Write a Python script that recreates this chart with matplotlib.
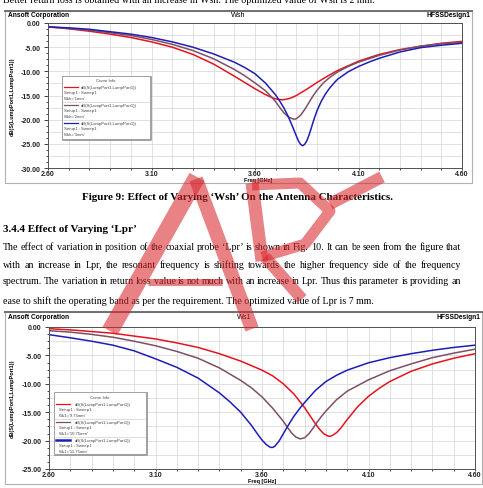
import matplotlib
matplotlib.use("Agg")
import matplotlib.pyplot as plt
from matplotlib.patches import Rectangle
from matplotlib.lines import Line2D
from matplotlib.ticker import FixedLocator, MultipleLocator
import numpy as np

W, H = 483, 489
SANS = "Liberation Sans"
SERIF = "Liberation Serif"

# ---------------- data: Fig. 9, varying Wsh ----------------
wsh_labels = ["Wsh='1mm'", "Wsh='2mm'", "Wsh='3mm'"]
wsh1_f = [2.60, 2.70, 2.80, 2.90, 3.00, 3.10, 3.20, 3.30, 3.40, 3.50, 3.55, 3.60, 3.65, 3.68, 3.70,
          3.73, 3.76, 3.78, 3.80, 3.85, 3.90, 3.95, 4.00, 4.10, 4.20, 4.30, 4.40, 4.50, 4.60]
wsh1_db = [-0.8, -1.2, -1.7, -2.3, -3.0, -3.9, -5.0, -6.5, -8.5, -11.0, -12.3, -13.6, -14.8, -15.4, -15.7,
           -15.9, -15.7, -15.4, -15.0, -13.7, -12.3, -11.0, -9.8, -7.9, -6.5, -5.5, -4.8, -4.2, -3.8]
wsh2_f = [2.60, 2.70, 2.80, 2.90, 3.00, 3.10, 3.20, 3.30, 3.40, 3.50, 3.55, 3.60, 3.65, 3.68, 3.70,
          3.72, 3.74, 3.76, 3.78, 3.79, 3.80, 3.82, 3.84, 3.86, 3.88, 3.90, 3.93, 3.96, 4.00, 4.05,
          4.10, 4.20, 4.30, 4.40, 4.50, 4.60]
wsh2_db = [-0.8, -1.1, -1.5, -2.0, -2.6, -3.4, -4.4, -5.7, -7.4, -9.6, -10.9, -12.4, -14.0, -15.3, -16.3,
           -17.5, -18.6, -19.4, -19.8, -19.9, -19.8, -19.1, -17.9, -16.5, -15.1, -13.9, -12.4, -11.3, -10.1, -9.0,
           -8.1, -6.7, -5.6, -4.8, -4.3, -4.0]
wsh3_f = [2.60, 2.70, 2.80, 2.90, 3.00, 3.10, 3.20, 3.30, 3.40, 3.50, 3.55, 3.60, 3.65, 3.70, 3.72,
          3.74, 3.76, 3.78, 3.80, 3.81, 3.82, 3.83, 3.84, 3.85, 3.86, 3.87, 3.88, 3.89, 3.90, 3.92,
          3.94, 3.96, 3.98, 4.00, 4.05, 4.10, 4.15, 4.20, 4.30, 4.40, 4.50, 4.60]
wsh3_db = [-0.8, -1.0, -1.3, -1.8, -2.3, -3.0, -3.9, -5.0, -6.4, -8.1, -9.2, -10.5, -12.4, -14.9, -16.2,
           -17.6, -19.3, -21.3, -23.4, -24.4, -25.1, -25.4, -25.1, -24.4, -23.3, -22.0, -20.6, -19.3, -18.1, -16.2,
           -14.7, -13.5, -12.5, -11.6, -10.1, -9.0, -8.1, -7.3, -6.0, -5.1, -4.6, -4.2]

# ---------------- data: Fig. 10, varying Ws1 ----------------
ws1_labels = ["Ws1='9.75mm'", "Ws1='10.75mm'", "Ws1='11.75mm'"]
ws1a_f = [2.60, 2.70, 2.80, 2.90, 3.00, 3.10, 3.20, 3.30, 3.40, 3.50, 3.60, 3.65, 3.70, 3.75, 3.80,
          3.85, 3.87, 3.89, 3.91, 3.92, 3.93, 3.95, 3.97, 4.00, 4.05, 4.10, 4.15, 4.20, 4.30, 4.40,
          4.50, 4.60]
ws1a_db = [-0.3, -0.5, -0.8, -1.1, -1.6, -2.1, -2.8, -3.6, -4.7, -6.0, -7.6, -8.6, -10.0, -11.8, -14.2,
           -17.0, -18.0, -18.8, -19.2, -19.25, -19.1, -18.6, -17.8, -16.3, -14.0, -12.2, -10.8, -9.6, -7.8, -6.5,
           -5.5, -4.7]
ws1b_f = [2.60, 2.70, 2.80, 2.90, 3.00, 3.10, 3.20, 3.30, 3.40, 3.45, 3.50, 3.55, 3.60, 3.65, 3.70,
          3.72, 3.74, 3.76, 3.78, 3.80, 3.82, 3.84, 3.86, 3.88, 3.90, 3.95, 4.00, 4.10, 4.20, 4.30,
          4.40, 4.50, 4.60]
ws1b_db = [-0.65, -0.9, -1.3, -1.8, -2.5, -3.3, -4.3, -5.5, -7.2, -8.3, -9.4, -10.7, -12.3, -14.3, -16.6,
           -17.7, -18.7, -19.4, -19.7, -19.5, -18.8, -17.8, -16.7, -15.7, -14.8, -12.8, -11.3, -9.3, -7.7, -6.5,
           -5.4, -4.6, -3.9]
ws1c_f = [2.60, 2.70, 2.80, 2.90, 3.00, 3.10, 3.20, 3.30, 3.40, 3.45, 3.50, 3.55, 3.58, 3.60, 3.62,
          3.64, 3.65, 3.66, 3.68, 3.70, 3.72, 3.75, 3.78, 3.80, 3.85, 3.90, 3.95, 4.00, 4.10, 4.20,
          4.30, 4.40, 4.50, 4.60]
ws1c_db = [-1.35, -1.9, -2.5, -3.2, -4.2, -5.6, -7.1, -9.0, -11.6, -13.2, -15.0, -17.3, -18.9, -19.9, -20.7,
           -21.2, -21.2, -21.0, -20.1, -18.8, -17.5, -15.7, -14.2, -13.3, -11.2, -9.6, -8.5, -7.6, -6.3, -5.4,
           -4.7, -4.1, -3.6, -3.2]

x_ticks = [2.6, 3.1, 3.6, 4.1, 4.6]
x_tick_labels = ["2.60", "3.10", "3.60", "4.10", "4.60"]
wsh_yticks = [0, -5, -10, -15, -20, -25, -30]
wsh_ylabels = ["0.00", "-5.00", "-10.00", "-15.00", "-20.00", "-25.00", "-30.00"]
ws1_yticks = [0, -5, -10, -15, -20, -25]
ws1_ylabels = ["0.00", "-5.00", "-10.00", "-15.00", "-20.00", "-25.00"]

colors = ["#e3141e", "#7d5066", "#1e1eb4"]

# ---------------- page text ----------------
top_line = "Better return loss is obtained with an increase in Wsh. The optimized value of Wsh is 2 mm."
caption9 = "Figure 9: Effect of Varying \u2018Wsh\u2019 On the Antenna Characteristics."
heading = "3.4.4 Effect of Varying \u2018Lpr\u2019"
para = [
    "The effect of variation in position of the coaxial probe \u2018Lpr\u2019 is shown in Fig. 10. It can be seen from the figure that",
    "with an increase in Lpr, the resonant frequency is shifting towards the higher frequency side of the frequency",
    "spectrum. The variation in return loss value is not much with an increase in Lpr. Thus this parameter is providing an",
    "ease to shift the operating band as per the requirement. The optimized value of Lpr is 7 mm.",
]


def fx(x):
    return x / W


def fy(y):
    return 1 - y / H


fig = plt.figure(figsize=(W / 100, H / 100), dpi=100)
fig.patch.set_facecolor("white")
renderer = fig.canvas.get_renderer()


def text_width(s, size, weight="normal", family=SERIF):
    t = fig.text(0, 0, s, fontsize=size, family=family, weight=weight)
    w = t.get_window_extent(renderer).width
    t.remove()
    return w


def fit_size(s, width, weight="normal"):
    return 10 * width / text_width(s, 10, weight)


def justified(line, x0, x1, y, size):
    words = line.split()
    widths = [text_width(w, size) for w in words]
    gap = (x1 - x0 - sum(widths)) / (len(words) - 1)
    x = x0
    for w, wd in zip(words, widths):
        fig.text(fx(x), fy(y), w, fontsize=size, family=SERIF, va="baseline", ha="left")
        x += wd + gap


body = fit_size(para[3], 369)
fig.text(fx(3), fy(3), top_line, fontsize=body, family=SERIF, va="baseline")
cap = fit_size(caption9, 313, "bold")
fig.text(fx(237), fy(200.5), caption9, fontsize=cap, family=SERIF, weight="bold", va="baseline", ha="center")
hd = fit_size(heading, 134, "bold")
fig.text(fx(3), fy(231.5), heading, fontsize=hd, family=SERIF, weight="bold", va="baseline")
for i, (line, yy) in enumerate(zip(para, [250.5, 267.5, 284.5, 304])):
    if i < 3:
        justified(line, 3, 461, yy, body)
    else:
        fig.text(fx(3), fy(yy), line, fontsize=body, family=SERIF, va="baseline")


# ---------------- HFSS panels ----------------
def panel(x0, y0, x1, y1):
    fig.add_artist(Rectangle((fx(x0), fy(y1)), (x1 - x0) / W, (y1 - y0) / H, transform=fig.transFigure,
                             fill=False, ec="#b0b0b0", lw=0.8))
    fig.add_artist(Line2D([fx(x0), fx(x1)], [fy(y0), fy(y0)], transform=fig.transFigure,
                          color="#707070", lw=1.4))


def curve_info(box, title_y, rows, label_texts, sample_x, dbx, textx, lws):
    x0, y0, x1, y1 = box
    fig.add_artist(Line2D([fx(x1 + 1), fx(x1 + 1), fx(x0 + 1)], [fy(y0 + 1), fy(y1 + 1), fy(y1 + 1)],
                          transform=fig.transFigure, color="#9a9a9a", lw=1.3, zorder=5))
    fig.add_artist(Rectangle((fx(x0), fy(y1)), (x1 - x0) / W, (y1 - y0) / H, transform=fig.transFigure,
                             fc="white", ec="#a0a0a0", lw=0.7, zorder=5))
    fig.text(fx((x0 + x1) / 2), fy(title_y), "Curve Info", fontsize=3.1, family=SANS, ha="center",
             va="center", color="#444444", zorder=6)
    for k, (ry, lab) in enumerate(zip(rows, label_texts)):
        fig.add_artist(Line2D([fx(sample_x[0]), fx(sample_x[1])], [fy(ry), fy(ry)], transform=fig.transFigure,
                              color=colors[k], lw=lws[k], zorder=7))
        fig.text(fx(dbx), fy(ry), "dB(S(LumpPort1,LumpPort1))", fontsize=3.1, family=SANS, va="center",
                 color="#444444", zorder=6)
        fig.text(fx(textx), fy(ry + 5.5), "Setup1 : Sweep1", fontsize=3.1, family=SANS, va="center",
                 color="#444444", zorder=6)
        fig.text(fx(textx), fy(ry + 11), lab, fontsize=3.1, family=SANS, va="center", color="#444444", zorder=6)
        if k < 2:
            fig.add_artist(Line2D([fx(x0 + 1), fx(x1 - 1)], [fy(ry + 14.5), fy(ry + 14.5)],
                                  transform=fig.transFigure, color="#d0d0d0", lw=0.5, zorder=6))


def style_axes(ax, ylo, yticks, ylabels):
    ax.set_xlim(2.6, 4.6)
    ax.set_ylim(ylo, 0)
    ax.xaxis.set_major_locator(FixedLocator(x_ticks))
    ax.set_xticklabels(x_tick_labels)
    ax.xaxis.set_minor_locator(MultipleLocator(0.1))
    ax.yaxis.set_major_locator(FixedLocator(yticks))
    ax.set_yticklabels(ylabels)
    ax.yaxis.set_minor_locator(MultipleLocator(1.25))
    ax.grid(True, axis="x", which="both", color="#dcdcdc", lw=0.6, zorder=0)
    for v in np.arange(ylo, 0.01, 2.5):
        ax.axhline(v, color="#dcdcdc", lw=0.6, zorder=0)
    ax.tick_params(axis="y", which="major", direction="out", length=3, width=0.6, pad=2.5)
    ax.tick_params(axis="x", which="major", direction="out", length=1.5, width=0.6, pad=0.3)
    ax.tick_params(which="minor", direction="out", length=1.5, width=0.5)
    ax.tick_params(labelsize=5.0, colors="#222222")
    for lab in ax.get_xticklabels() + ax.get_yticklabels():
        lab.set_fontweight("bold")
        lab.set_family(SANS)
    for sp in ax.spines.values():
        sp.set_color("#505050")
        sp.set_linewidth(0.7)
    ax.set_axisbelow(True)


# Fig. 9 panel
panel(5, 12, 472, 184)
ax1 = fig.add_axes([fx(48), fy(169), 414 / W, 145 / H])
for f, d, c in zip([wsh1_f, wsh2_f, wsh3_f], [wsh1_db, wsh2_db, wsh3_db], colors):
    ax1.plot(f, d, color=c, lw=1.1)
style_axes(ax1, -30, wsh_yticks, wsh_ylabels)
fig.text(fx(8), fy(15.5), "Ansoft Corporation", fontsize=4.8, family=SANS, weight="bold", va="center")
fig.text(fx(238), fy(15.5), "Wsh", fontsize=5.2, family=SANS, va="center", ha="center")
fig.text(fx(470), fy(15.5), "HFSSDesign1", fontsize=4.8, family=SANS, weight="bold", va="center", ha="right")
fig.text(fx(12), fy(97), "dB(S(LumpPort1,LumpPort1))", fontsize=4.0, family=SANS, weight="bold",
         rotation=90, va="center", ha="center")
fig.text(fx(258), fy(180.5), "Freq [GHz]", fontsize=4.0, family=SANS, weight="bold", va="center", ha="center")
curve_info((62, 77, 150, 140), 81, [88, 106, 124], wsh_labels, (64, 78), 81, 64, [0.9, 0.9, 0.9])

# Fig. 10 panel
panel(5, 313, 482, 485)
ax2 = fig.add_axes([fx(49), fy(470), 426 / W, 142 / H])
for f, d, c in zip([ws1a_f, ws1b_f, ws1c_f], [ws1a_db, ws1b_db, ws1c_db], colors):
    ax2.plot(f, d, color=c, lw=1.1)
style_axes(ax2, -25, ws1_yticks, ws1_ylabels)
fig.text(fx(8), fy(317.5), "Ansoft Corporation", fontsize=4.8, family=SANS, weight="bold", va="center")
fig.text(fx(244), fy(317.5), "Ws1", fontsize=5.2, family=SANS, va="center", ha="center")
fig.text(fx(480), fy(317.5), "HFSSDesign1", fontsize=4.8, family=SANS, weight="bold", va="center", ha="right")
fig.text(fx(12), fy(399), "dB(S(LumpPort1,LumpPort1))", fontsize=4.0, family=SANS, weight="bold",
         rotation=90, va="center", ha="center")
fig.text(fx(262), fy(481.5), "Freq [GHz]", fontsize=4.0, family=SANS, weight="bold", va="center", ha="center")
curve_info((54, 393, 146, 455), 398, [405, 423, 441], ws1_labels, (56, 70), 75, 59, [0.9, 0.9, 1.8])

# ---------------- red watermark over the page ----------------
strokes = [
    ([(110, 332), (197, 178)], 17),
    ([(196, 180), (252, 330)], 14),
    ([(148, 283), (222, 283)], 7),
    ([(252, 184), (262, 262)], 13),
    ([(252, 186), (300, 184), (330, 212), (305, 245), (262, 258)], 11),
    ([(265, 258), (302, 300)], 12),
    ([(330, 205), (382, 178)], 12),
]
for pts, w in strokes:
    xs = [fx(p[0]) for p in pts]
    ys = [fy(p[1]) for p in pts]
    fig.add_artist(Line2D(xs, ys, transform=fig.transFigure, color="#d8282d", alpha=0.58,
                          lw=w / 1.389, solid_capstyle="butt", solid_joinstyle="round", zorder=10))

fig.savefig("out.png", dpi=100)
